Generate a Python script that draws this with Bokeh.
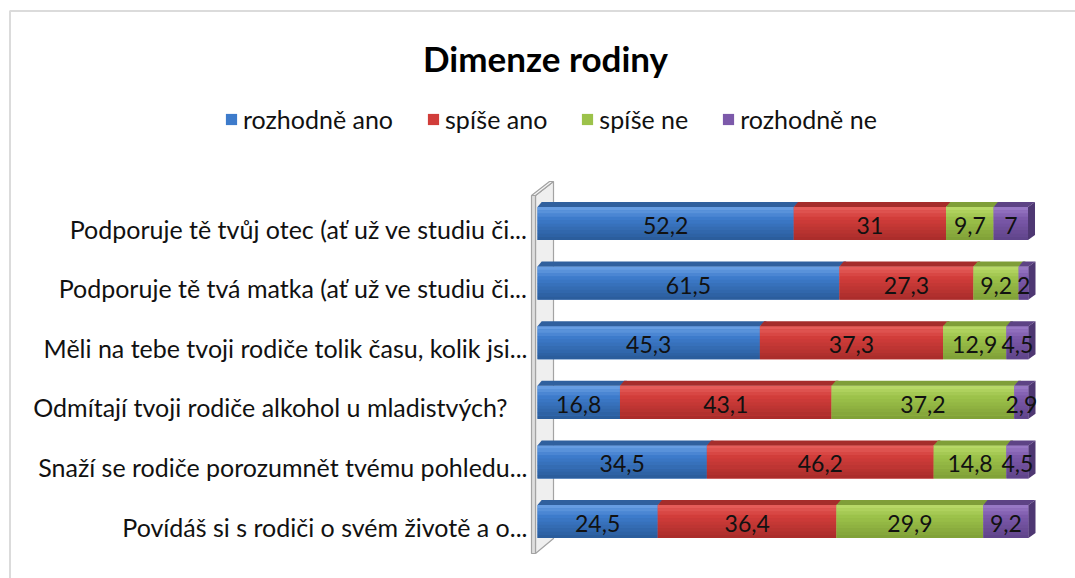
from bokeh.plotting import figure
from bokeh.models import Range1d, Legend, LegendItem, BoxAnnotation
from bokeh.core.properties import value
from bokeh.embed import file_html
from bokeh.resources import INLINE

# ---------------- data ----------------
categories = [
    "Podporuje tě tvůj otec (ať už ve studiu či...",
    "Podporuje tě tvá matka (ať už ve studiu či...",
    "Měli na tebe tvoji rodiče tolik času, kolik jsi...",
    "Odmítají tvoji rodiče alkohol u mladistvých?",
    "Snaží se rodiče porozumnět tvému pohledu...",
    "Povídáš si s rodiči o svém životě a o...",
]
series_names = ["rozhodně ano", "spíše ano", "spíše ne", "rozhodně ne"]
rozhodne_ano = [52.2, 61.5, 45.3, 16.8, 34.5, 24.5]
spise_ano = [31, 27.3, 37.3, 43.1, 46.2, 36.4]
spise_ne = [9.7, 9.2, 12.9, 37.2, 14.8, 29.9]
rozhodne_ne = [7, 2, 4.5, 2.9, 4.5, 9.2]
title_text = "Dimenze rodiny"

series_values = [rozhodne_ano, spise_ano, spise_ne, rozhodne_ne]

# ---------------- styles ----------------
FONT = "Lato"
# (top light, middle, bottom dark, bevel top, side)
palettes = [
    ("#6ea3e6", "#3d7bcb", "#2a5a98", "#30609e", "#244f86"),
    ("#e8615e", "#d13d3a", "#a82c2a", "#a52d2b", "#8e2523"),
    ("#bcdc6c", "#9cc24a", "#7f9f37", "#7f9e38", "#6c8a2e"),
    ("#9d7dc9", "#7c59aa", "#5e4388", "#5d4385", "#4e3772"),
]
# extra right padding of category label text (px), as laid out in the source
label_pad_px = [0, 0, 0, 20, 0, 0]

W, H = 1075, 578
PXU = 4.91                   # px per value unit
PXR = 59.6                   # px per row
X0 = 537                     # pixel x of value 0
Y0 = 223                     # pixel y of first row centre


def vx(xpx):
    return (xpx - X0) / PXU


def vy(ypx):
    return (ypx - Y0) / PXR


p = figure(width=W, height=H, output_backend="svg", toolbar_location=None,
           x_range=Range1d(vx(0), vx(W)), y_range=Range1d(vy(H), vy(0)),
           x_axis_location=None, y_axis_location=None,
           min_border_left=0, min_border_right=0,
           min_border_top=0, min_border_bottom=0)
p.grid.visible = False
p.outline_line_color = None
p.background_fill_color = "white"
p.border_fill_color = "white"

rows = list(range(len(categories)))

# outer chart border
p.add_layout(BoxAnnotation(left=vx(9.5), right=vx(1400), top=vy(10.5), bottom=vy(900),
                           fill_alpha=0, line_color="#888888", line_width=2))

# category labels
p.text(x=[vx(527 - pad) for pad in label_pad_px], y=[r + 5 / PXR for r in rows],
       text=categories, text_align="right", text_baseline="middle",
       text_font=value(FONT), text_font_size="25px", text_color="#111111")

# 3D wall
wall_front = [(531, 195), (535, 195), (535, 553), (531, 553)]
wall_side = [(535, 195), (553, 181), (553, 538), (535, 553)]
wall_top = [(531, 195), (549, 181), (553, 181), (535, 195)]
for poly, col in [(wall_side, "#efefef"), (wall_front, "#dedede"), (wall_top, "#f6f6f6")]:
    p.patch([vx(a) for a, b in poly], [vy(b) for a, b in poly],
            fill_color=col, line_color="#a3a3a3", line_width=1.2)

# bars
FH = 33 / PXR
DX = 7 / PXU
DY = 5 / PXR
NB = 10


def hexmix(c1, c2, t):
    a = [int(c1[i:i + 2], 16) for i in (1, 3, 5)]
    b = [int(c2[i:i + 2], 16) for i in (1, 3, 5)]
    return "#%02x%02x%02x" % tuple(round(a[k] + (b[k] - a[k]) * t) for k in range(3))


cum = [0.0] * len(rows)
legend_items = []
for k, vals in enumerate(series_values):
    top_c, mid_c, bot_c, bevel_c, side_c = palettes[k]
    lefts = cum[:]
    rights = [l + v for l, v in zip(lefts, vals)]
    base = p.hbar(y=rows, left=lefts, right=rights, height=FH,
                  fill_color=mid_c, line_color=None)
    legend_items.append(LegendItem(label=series_names[k], renderers=[base]))
    for b in range(NB):
        t = (b + 0.5) / NB
        if t < 0.35:
            col = hexmix(top_c, mid_c, t / 0.35)
        else:
            col = hexmix(mid_c, bot_c, (t - 0.35) / 0.65)
        yc = [r - FH / 2 + (b + 0.5) * FH / NB for r in rows]
        p.hbar(y=yc, left=lefts, right=rights, height=FH / NB * 1.05,
               fill_color=col, line_color=None)
    # top bevel
    xs, ys = [], []
    for r, l, rt in zip(rows, lefts, rights):
        tp = r - FH / 2
        xs.append([l, l + DX * 0.6, rt + DX, rt])
        ys.append([tp, tp - DY, tp - DY, tp])
    p.patches(xs, ys, fill_color=bevel_c, line_color=None)
    if k == len(series_values) - 1:
        xs, ys = [], []
        for r, rt in zip(rows, rights):
            tp, bt = r - FH / 2, r + FH / 2
            xs.append([rt, rt + DX, rt + DX, rt])
            ys.append([tp, tp - DY, bt - DY, bt])
        p.patches(xs, ys, fill_color=side_c, line_color=None)
    # value labels
    txt = [("%g" % v).replace(".", ",") for v in vals]
    mids = [l + v / 2 for l, v in zip(lefts, vals)]
    p.text(x=mids, y=[r + 2 / PXR for r in rows], text=txt, text_align="center",
           text_baseline="middle", text_font=value(FONT), text_font_size="23px",
           text_color="#111111")
    cum = rights

# title
p.text(x=[vx(545)], y=[vy(57)], text=[title_text], text_align="center",
       text_baseline="middle", text_font=value(FONT), text_font_style="bold",
       text_font_size="35px", text_color="#000000")

# legend
legend = Legend(items=legend_items, orientation="horizontal",
                location=(224, H - 104 - 30))
legend.glyph_width = 14
legend.glyph_height = 14
legend.label_standoff = 5
legend.spacing = 33
legend.padding = 0
legend.margin = 0
legend.border_line_alpha = 0
legend.background_fill_alpha = 0
legend.label_text_font = FONT
legend.label_text_font_size = "25px"
legend.label_text_color = "#111111"
legend.label_height = 26
p.add_layout(legend)

open("out.html", "w").write(file_html(p, INLINE))
